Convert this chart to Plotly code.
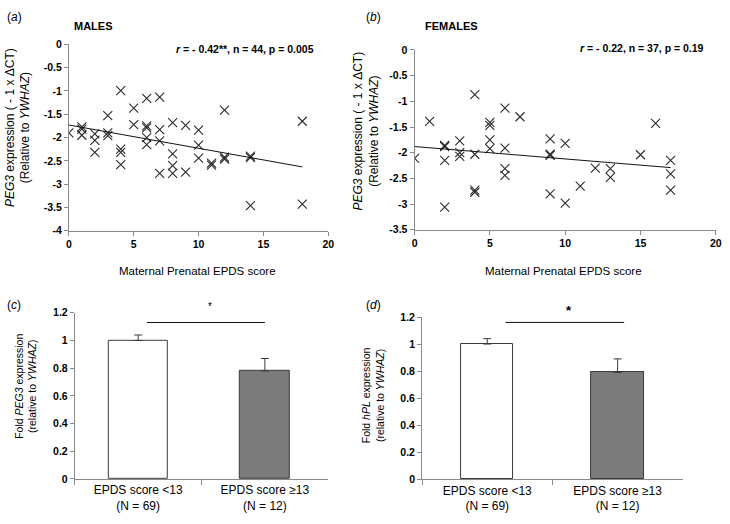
import plotly.graph_objects as go

# ---------------- data ----------------
males_x = [0, 1, 1, 1, 2, 2, 2, 3, 3, 3, 4, 4, 4, 4, 5, 5, 6, 6, 6, 6, 6,
           7, 7, 7, 7, 8, 8, 8, 8, 9, 9, 10, 10, 10, 11, 11, 12, 12, 12,
           14, 14, 14, 18, 18]
males_y = [-1.90, -1.77, -1.82, -1.95, -1.92, -2.06, -2.32, -1.53, -1.90, -1.96,
           -0.99, -2.25, -2.32, -2.58, -1.37, -1.72, -1.16, -1.75, -1.79, -2.00, -2.15,
           -1.13, -1.83, -2.07, -2.77, -1.68, -2.35, -2.60, -2.77, -1.74, -2.74,
           -1.84, -2.16, -2.44, -2.55, -2.59, -1.41, -2.42, -2.46,
           -2.40, -2.43, -3.46, -1.65, -3.43]
males_trend_x = [0, 18]
males_trend_y = [-1.73, -2.63]

females_x = [0, 1, 2, 2, 2, 2, 3, 3, 3, 4, 4, 4, 4, 5, 5, 5, 5, 6, 6, 6, 6,
             7, 9, 9, 9, 9, 10, 10, 11, 12, 13, 13, 15, 16, 17, 17, 17]
females_y = [-2.11, -1.39, -1.86, -1.88, -2.15, -3.06, -1.77, -2.00, -2.07,
             -0.87, -2.03, -2.73, -2.77, -1.41, -1.47, -1.75, -1.92,
             -1.13, -1.91, -2.31, -2.44, -1.30, -1.73, -2.03, -2.05, -2.80,
             -1.82, -2.98, -2.65, -2.30, -2.31, -2.48, -2.04, -1.43,
             -2.15, -2.41, -2.73]
females_trend_x = [0, 17]
females_trend_y = [-1.88, -2.29]

bar_categories = ["EPDS score <13<br>(N = 69)", "EPDS score \u226513<br>(N = 12)"]
peg3_fold = [1.00, 0.78]
peg3_err = [0.04, 0.09]
hpl_fold = [1.00, 0.79]
hpl_err = [0.04, 0.10]

sig_c_x = [0.07, 1.0]
sig_c_y = 1.13
sig_d_x = [0.14, 1.05]
sig_d_y = 1.16

scatter_x_ticks = [0, 5, 10, 15, 20]
males_y_ticks = [0, -0.5, -1, -1.5, -2, -2.5, -3, -3.5, -4]
females_y_ticks = [0, -0.5, -1, -1.5, -2, -2.5, -3, -3.5]
bar_y_ticks = [0, 0.2, 0.4, 0.6, 0.8, 1.0, 1.2]


def lab(v):
    return "<b>%g</b>" % v


# ---------------- figure ----------------
FONT = "Liberation Sans, Arial, sans-serif"
AXC = "#8a8a8a"
MK = "#2b2b2b"

fig = go.Figure()

fig.add_trace(go.Scatter(x=males_x, y=males_y, mode="markers", xaxis="x", yaxis="y",
                         marker=dict(symbol="x-thin-open", size=9, line=dict(width=1.1, color=MK), color=MK),
                         showlegend=False, hoverinfo="skip"))
fig.add_trace(go.Scatter(x=males_trend_x, y=males_trend_y, mode="lines", xaxis="x", yaxis="y",
                         line=dict(color="#111", width=1), showlegend=False, hoverinfo="skip"))
fig.add_trace(go.Scatter(x=females_x, y=females_y, mode="markers", xaxis="x2", yaxis="y2",
                         marker=dict(symbol="x-thin-open", size=9, line=dict(width=1.1, color=MK), color=MK),
                         showlegend=False, hoverinfo="skip"))
fig.add_trace(go.Scatter(x=females_trend_x, y=females_trend_y, mode="lines", xaxis="x2", yaxis="y2",
                         line=dict(color="#111", width=1), showlegend=False, hoverinfo="skip"))

bar_fill = ["#ffffff", "#7b7b7b"]
fig.add_trace(go.Bar(x=bar_categories, y=peg3_fold, xaxis="x3", yaxis="y3",
                     width=[0.46, 0.40],
                     marker=dict(color=bar_fill, line=dict(color="#3a3a3a", width=1)),
                     error_y=dict(type="data", symmetric=False, array=peg3_err, arrayminus=[0, 0],
                                  color="#3a3a3a", thickness=1, width=4),
                     showlegend=False, hoverinfo="skip"))
fig.add_trace(go.Bar(x=bar_categories, y=hpl_fold, xaxis="x4", yaxis="y4",
                     width=[0.40, 0.40],
                     marker=dict(color=bar_fill, line=dict(color="#3a3a3a", width=1)),
                     error_y=dict(type="data", symmetric=False, array=hpl_err, arrayminus=[0, 0],
                                  color="#3a3a3a", thickness=1, width=4),
                     showlegend=False, hoverinfo="skip"))

tickfont = dict(family=FONT, size=10.5, color="#000")
common = dict(showline=True, linecolor=AXC, linewidth=1, ticks="outside", tickcolor=AXC,
              ticklen=4, tickwidth=1, showgrid=False, zeroline=False, tickfont=tickfont)

fig.update_layout(
    width=730, height=524, margin=dict(l=0, r=0, t=0, b=0),
    paper_bgcolor="white", plot_bgcolor="white",
    font=dict(family=FONT, color="#000"),
    bargap=0,
    xaxis=dict(domain=[66.7 / 730, 329.3 / 730], anchor="y", range=[0, 20],
               tickvals=scatter_x_ticks, ticktext=[lab(v) for v in scatter_x_ticks], **common),
    yaxis=dict(domain=[1 - 230 / 524, 1 - 39.3 / 524], anchor="x", range=[-4, 0],
               tickvals=males_y_ticks, ticktext=[lab(v) for v in males_y_ticks], **common),
    xaxis2=dict(domain=[416.7 / 730, 721.7 / 730], anchor="y2", range=[0, 20],
                tickvals=scatter_x_ticks, ticktext=[lab(v) for v in scatter_x_ticks], **common),
    yaxis2=dict(domain=[1 - 229 / 524, 1 - 45 / 524], anchor="x2", range=[-3.5, 0],
                tickvals=females_y_ticks, ticktext=[lab(v) for v in females_y_ticks], **common),
    xaxis3=dict(domain=[72.7 / 730, 329.3 / 730], anchor="y3", type="category", tickson="boundaries",
                **{**common, "ticklen": 5, "tickfont": dict(family=FONT, size=12, color="#000")}),
    yaxis3=dict(domain=[1 - 484 / 524, 1 - 314 / 524], anchor="x3", range=[0, 1.2],
                tickvals=bar_y_ticks, ticktext=[lab(v) for v in bar_y_ticks], **common),
    xaxis4=dict(domain=[424.3 / 730, 688.3 / 730], anchor="y4", type="category", tickson="boundaries",
                **{**common, "ticklen": 5, "tickfont": dict(family=FONT, size=12, color="#000")}),
    yaxis4=dict(domain=[1 - 484.3 / 524, 1 - 318.3 / 524], anchor="x4", range=[0, 1.2],
                tickvals=bar_y_ticks, ticktext=[lab(v) for v in bar_y_ticks], **common),
)

# significance brackets
fig.add_shape(type="line", xref="x3", yref="y3", x0=sig_c_x[0], x1=sig_c_x[1], y0=sig_c_y, y1=sig_c_y,
              line=dict(color="#111", width=1))
fig.add_shape(type="line", xref="x4", yref="y4", x0=sig_d_x[0], x1=sig_d_x[1], y0=sig_d_y, y1=sig_d_y,
              line=dict(color="#111", width=1))

ann = []


def A(text, x, y, size=11, xanchor="center", yanchor="middle", angle=0, **kw):
    ann.append(dict(text=text, x=x / 730, y=1 - y / 524, xref="paper", yref="paper",
                    xanchor=xanchor, yanchor=yanchor, showarrow=False, textangle=angle,
                    font=dict(family=FONT, size=size, color="#000", **kw)))


# panel letters
A("(<i>a</i>)", 2, 11, size=12, xanchor="left")
A("(<i>b</i>)", 366, 11, size=12, xanchor="left")
A("(<i>c</i>)", 2, 306, size=12, xanchor="left")
A("(<i>d</i>)", 366, 306, size=12, xanchor="left")

# titles
A("<b>MALES</b>", 70, 20, size=11, xanchor="left")
A("<b>FEMALES</b>", 425, 20, size=11, xanchor="left")
A("<b><i>r</i> = - 0.42**, n = 44, p = 0.005</b>", 317, 44, size=10.5, xanchor="right")
A("<b><i>r</i> = - 0.22, n = 37, p = 0.19</b>", 712, 43, size=10.5, xanchor="right")

# scatter axis titles
A("Maternal Prenatal EPDS score", 197, 271, size=11.5)
A("Maternal Prenatal EPDS score", 567, 271, size=11.5)
A("<i>PEG3</i> expression ( - 1 x \u0394CT)<br>(Relative to <i>YWHAZ</i>)", 15, 124, size=12, angle=-90)
A("<i>PEG3</i> expression ( - 1 x \u0394CT)<br>(Relative to <i>YWHAZ</i>)", 368, 128, size=12, angle=-90)

# bar axis titles
A("Fold <i>PEG3</i> expression<br>(relative to <i>YWHAZ</i>)", 23, 389, size=10.5, angle=-90)
A("Fold <i>hPL</i> expression<br>(relative to <i>YWHAZ</i>)", 375, 398, size=10.5, angle=-90)

# stars
A("*", 210, 308, size=10)
A("<b>*</b>", 573, 312, size=13)

fig.update_layout(annotations=ann)

fig.write_html("out.html", config={"displayModeBar": False},
               post_script="document.body.style.margin='0';")
